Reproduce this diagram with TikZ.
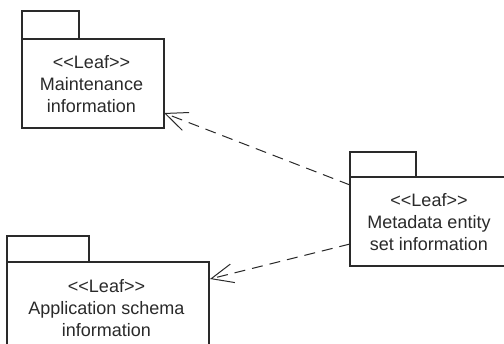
\documentclass[tikz,border=0pt]{standalone}
\usepackage{fontspec}
\setmainfont{Liberation Sans}
\usetikzlibrary{arrows.meta,calc}
\definecolor{ink}{HTML}{2A2A2A}
\begin{document}
\begin{tikzpicture}[x=1pt,y=1pt,
  pkgbox/.style={draw=ink,line width=1.1pt,fill=white,inner sep=0pt,outer sep=0pt},
  pkgtext/.style={text=ink,align=center,inner sep=0pt,
    font=\fontsize{18}{22}\selectfont},
  dep/.style={draw=ink,line width=1pt,dash pattern=on 11pt off 7pt,
    -{Straight Barb[length=22pt,width=19pt,line width=1pt]}}]
\useasboundingbox (0,0) rectangle (504,344);
\begin{scope}
\clip (0,0) rectangle (504,344);

% Maintenance information package
\node[pkgbox,minimum width=57,minimum height=28] (maintTab) at (50.5,319) {};
\node[pkgbox,minimum width=142,minimum height=89] (maintBody) at (93,260.5) {};
\node[pkgtext] (maintText) at (91.5,260) {<{}<Leaf>{}>\\Maintenance\\information};

% Application schema information package
\node[pkgbox,minimum width=82,minimum height=26] (appTab) at (48,95) {};
\node[pkgbox,minimum width=202,minimum height=98] (appBody) at (108,33) {};
\node[pkgtext] (appText) at (106.5,36) {<{}<Leaf>{}>\\Application schema\\information};

% Metadata entity set information package
\node[pkgbox,minimum width=66,minimum height=25] (metaTab) at (383,179.5) {};
\node[pkgbox,minimum width=158,minimum height=89] (metaBody) at (429,122.5) {};
\node[pkgtext] (metaText) at (429,122) {<{}<Leaf>{}>\\Metadata entity\\set information};

% dependency end points on the package borders
\coordinate (s1) at ($(metaBody.north west)+(0,-8)$);
\coordinate (e1) at ($(maintBody.south east)+(0,15)$);
\coordinate (s2) at ($(metaBody.south west)+(0,22)$);
\coordinate (e2) at ($(appBody.north east)+(1,-17)$);

\draw[dep] (s1) -- (e1);
\draw[dep] (s2) -- (e2);
\end{scope}
\end{tikzpicture}
\end{document}
